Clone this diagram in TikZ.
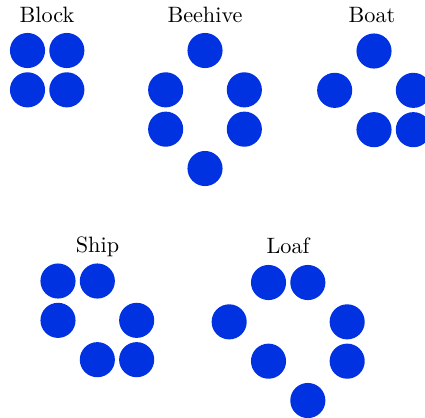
\documentclass[tikz,border=0pt]{standalone}
\usepackage{tikz}
\usetikzlibrary{positioning}
\definecolor{lifeblue}{RGB}{0,50,225}

\begin{document}
\begin{tikzpicture}[x=0.45pt,y=-0.45pt,node distance=17.7pt and 17.7pt,on grid,
   cell/.style={circle,fill=lifeblue,minimum size=15.8pt,inner sep=0pt},
   title/.style={anchor=base,inner sep=0pt}]
 \useasboundingbox (0,0) rectangle (425,417);
 % block
 \node[cell] (bk1) at (27.5,50.5) {};
 \node[cell] (bk2) [right=of bk1] {};
 \node[cell] (bk3) [below=of bk1] {};
 \node[cell] (bk4) [right=of bk3] {};
 \node[title] (tbk) at (47,22.7) {Block};
 % beehive
 \node[cell] (bh1) at (205,50.5) {};
 \node[cell] (bh2) [below left=of bh1] {};
 \node[cell] (bh3) [below right=of bh1] {};
 \node[cell] (bh4) [below=of bh2] {};
 \node[cell] (bh5) [below=of bh3] {};
 \node[cell] (bh6) [below right=of bh4] {};
 \node[title] (tbh) at (205,22.7) {Beehive};
 % boat
 \node[cell] (bt1) at (374,51) {};
 \node[cell] (bt2) [below left=of bt1] {};
 \node[cell] (bt3) [below right=of bt1] {};
 \node[cell] (bt4) [below right=of bt2] {};
 \node[cell] (bt5) [right=of bt4] {};
 \node[title] (tbt) at (372,22.7) {Boat};
 % ship
 \node[cell] (sp1) at (58,281) {};
 \node[cell] (sp2) [right=of sp1] {};
 \node[cell] (sp3) [below=of sp1] {};
 \node[cell] (sp4) [below right=of sp2] {};
 \node[cell] (sp5) [below right=of sp3] {};
 \node[cell] (sp6) [right=of sp5] {};
 \node[title] (tsp) at (97.5,252.7) {Ship};
 % loaf
 \node[cell] (lf1) at (268.5,282.5) {};
 \node[cell] (lf2) [right=of lf1] {};
 \node[cell] (lf3) [below left=of lf1] {};
 \node[cell] (lf4) [below right=of lf2] {};
 \node[cell] (lf5) [below right=of lf3] {};
 \node[cell] (lf6) [below=of lf4] {};
 \node[cell] (lf7) [below right=of lf5] {};
 \node[title] (tlf) at (288,253) {Loaf};
\end{tikzpicture}
\end{document}
